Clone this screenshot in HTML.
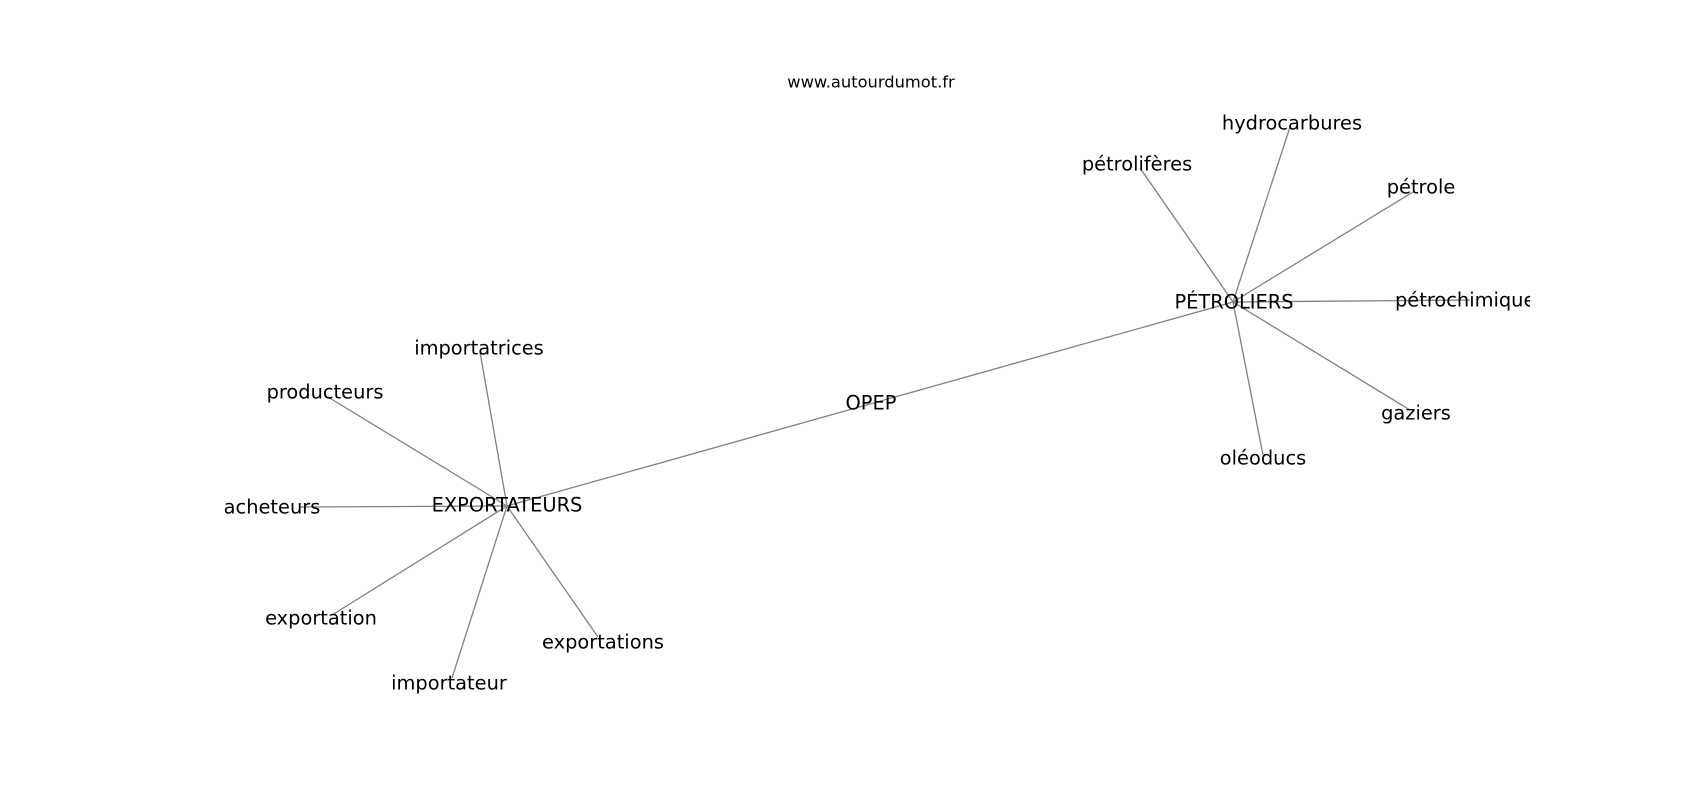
<!DOCTYPE html>
<html><head><meta charset="utf-8"><style>
html,body{margin:0;padding:0;background:#fff;width:1700px;height:800px;overflow:hidden}
svg text{font-family:"DejaVu Sans","Liberation Sans",sans-serif;font-size:19.4px;fill:#000;text-anchor:middle;dominant-baseline:central}
</style></head><body>
<svg width="1700" height="800" xmlns="http://www.w3.org/2000/svg">
<defs><clipPath id="c"><rect x="0" y="0" width="1530" height="800"/></clipPath></defs>
<g clip-path="url(#c)">
<g stroke="#808080" stroke-width="1.3">
<line x1="507" y1="506" x2="1233" y2="302"/>
<line x1="507" y1="506" x2="480" y2="352"/>
<line x1="507" y1="506" x2="328" y2="397"/>
<line x1="507" y1="506" x2="300" y2="507"/>
<line x1="507" y1="506" x2="332" y2="615"/>
<line x1="507" y1="506" x2="452" y2="678"/>
<line x1="507" y1="506" x2="598" y2="637"/>
<line x1="1233" y1="302" x2="1290" y2="127"/>
<line x1="1233" y1="302" x2="1140" y2="168"/>
<line x1="1233" y1="302" x2="1413" y2="192"/>
<line x1="1233" y1="302" x2="1470" y2="300"/>
<line x1="1233" y1="302" x2="1410" y2="410"/>
<line x1="1233" y1="302" x2="1263" y2="455"/>
</g>
<text x="871" y="82" style="font-size:16.3px">www.autourdumot.fr</text>
<text x="871" y="403">OPEP</text>
<text x="507" y="505">EXPORTATEURS</text>
<text x="479" y="348">importatrices</text>
<text x="325" y="392">producteurs</text>
<text x="272" y="507">acheteurs</text>
<text x="321" y="618">exportation</text>
<text x="449" y="683">importateur</text>
<text x="603" y="642">exportations</text>
<text x="1234" y="302">PÉTROLIERS</text>
<text x="1292" y="123">hydrocarbures</text>
<text x="1137" y="164">pétrolifères</text>
<text x="1421" y="187">pétrole</text>
<text x="1395" y="300" style="text-anchor:start">pétrochimique</text>
<text x="1416" y="413">gaziers</text>
<text x="1263" y="458">oléoducs</text>
</g>
</svg>
</body></html>
